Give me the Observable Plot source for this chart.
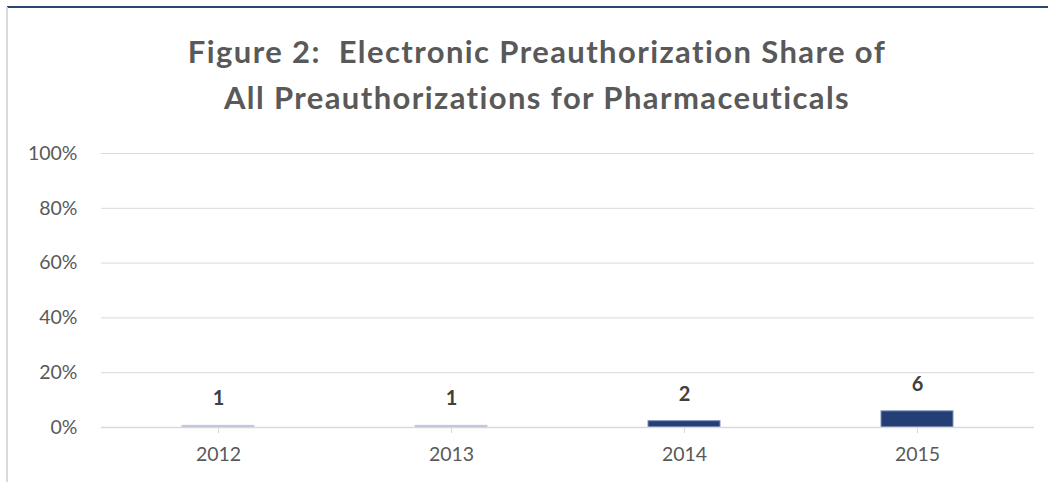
<!DOCTYPE html>
<html>
<head>
<meta charset="utf-8">
<script src="https://cdn.jsdelivr.net/npm/d3@7"></script>
<script src="https://cdn.jsdelivr.net/npm/@observablehq/plot@0.6"></script>
<style>
  html, body { margin: 0; padding: 0; background: #fff; }
  #wrap { position: relative; width: 1048px; height: 482px; overflow: hidden; background: #fff; }
  #frameTop { position: absolute; left: 7px; top: 6px; width: 1041px; height: 2px; background: #2c4478; }
  #frameLeft { position: absolute; left: 6px; top: 7px; width: 2px; height: 475px; background: #d9d9d9; }
  #title { position: absolute; left: 0; top: 28px; width: 1074px; text-align: center;
    font-family: Lato, "Open Sans", sans-serif; font-weight: 700; font-size: 31px; letter-spacing: 1.4px;
    line-height: 46px; color: #595959; }
  #chart { position: absolute; left: 0; top: 125px; }
</style>
</head>
<body>
<div id="wrap">
  <div id="frameTop"></div>
  <div id="frameLeft"></div>
  <div id="title">Figure 2:&nbsp; Electronic Preauthorization Share of<br>All Preauthorizations for Pharmaceuticals</div>
  <div id="chart"></div>
</div>
<script>
const years = ["2012", "2013", "2014", "2015"];
const shares = [0.6, 0.6, 2.3, 5.9];      // percent
const labels = ["1", "1", "2", "6"];
const barColors = ["#aab3cc", "#aab3cc", "#243f75", "#243f75"];
const yTicks = [0, 20, 40, 60, 80, 100];

const data = years.map((y, i) => ({year: y, share: shares[i], label: labels[i], color: barColors[i]}));

const chart = Plot.plot({
  width: 1048,
  height: 357,
  marginTop: 28,
  marginBottom: 55,
  marginLeft: 101,
  marginRight: 14,
  style: {fontFamily: "Lato, 'Open Sans', sans-serif", background: "transparent"},
  x: {domain: years, paddingInner: 0.69, paddingOuter: 0.345, label: null},
  y: {domain: [0, 100], label: null},
  marks: [
    Plot.ruleY(yTicks, {stroke: "#d9d9d9", strokeWidth: 1}),
    Plot.axisY({ticks: yTicks, tickSize: 0, tickPadding: 24, tickFormat: d => d + "%",
      fill: "#595959", fontSize: 19.5, label: null}),
    Plot.axisX({tickSize: 6, stroke: "#d9d9d9", fill: "#595959", fontSize: 19.5,
      tickPadding: 14, label: null}),
    Plot.barY(data, {x: "year", y: "share", fill: "color", stroke: d => d.color === "#243f75" ? "#7f90b8" : "#c3cade", strokeWidth: 1}),
    Plot.ruleY([0], {stroke: "#d9d9d9", strokeWidth: 1.5}),
    Plot.text(data, {x: "year", y: "share", text: "label", dy: -27, fill: "#404040",
      fontWeight: "bold", fontSize: 20, lineAnchor: "middle"})
  ]
});
document.getElementById("chart").appendChild(chart);
</script>
</body>
</html>
